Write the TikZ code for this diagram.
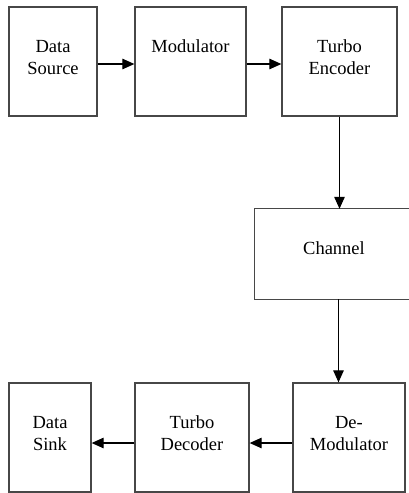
\documentclass[tikz,border=0pt]{standalone}
\usepackage{fontspec}
\setmainfont{Liberation Serif}
\usetikzlibrary{arrows.meta}
\begin{document}
\begin{tikzpicture}[x=1pt,y=1pt,
  box/.style={draw=black!72,line width=1.3pt,rectangle,inner sep=0pt},
  txt/.style={align=center,font=\fontsize{18.5}{22}\selectfont,inner sep=0pt},
  conn/.style={line width=1.2pt,-{Triangle[length=12pt,width=10.5pt]}},
  plain/.style={line width=1.2pt}]
\useasboundingbox (0,0) rectangle (409,-493);
% top row
\node[box,minimum width=88pt,minimum height=109pt] (src) at (53,-61.5) {};
\node[box,minimum width=111pt,minimum height=109pt] (mod) at (190.5,-61.5) {};
\node[box,minimum width=115pt,minimum height=109pt] (enc) at (339.5,-61.5) {};
\node[txt] (srct) at (53,-57.5) {Data\\Source};
\node[txt] (modt) at (190.5,-46.5) {Modulator};
\node[txt] (enct) at (339.5,-57.5) {Turbo\\Encoder};
% channel (open at right edge)
\node[minimum width=154pt,minimum height=90pt,inner sep=0pt] (ch) at (332,-254) {};
\draw[draw=black!72,line width=1.3pt] (ch.north east) -- (ch.north west) -- (ch.south west) -- (ch.south east);
\node[txt] (cht) at (334,-248.5) {Channel};
% bottom row
\node[box,minimum width=82pt,minimum height=109pt] (sink) at (50,-437.5) {};
\node[box,minimum width=114pt,minimum height=109pt] (dec) at (192,-437.5) {};
\node[box,minimum width=112pt,minimum height=109pt] (dem) at (349,-437.5) {};
\node[txt] (sinkt) at (50,-433.5) {Data\\Sink};
\node[txt] (dect) at (192,-433.5) {Turbo\\Decoder};
\node[txt] (demt) at (349,-433.5) {De-\\Modulator};
% connectors
\draw[conn] ([yshift=-2.5pt]src.east) -- ([yshift=-2.5pt]mod.west);
\draw[conn] ([yshift=-2.5pt]mod.east) -- ([yshift=-2.5pt]enc.west);
\draw[conn] (enc.south) -- (enc.south |- ch.north);
\coordinate (chout) at ([xshift=6.5pt]ch.south);
\draw[conn] (chout) -- (chout |- dem.north);
\draw[conn] ([yshift=-5.5pt]dem.west) -- ([yshift=-5.5pt]dec.east);
\draw[conn] ([yshift=-5.5pt]dec.west) -- ([yshift=-5.5pt]sink.east);
\end{tikzpicture}
\end{document}
